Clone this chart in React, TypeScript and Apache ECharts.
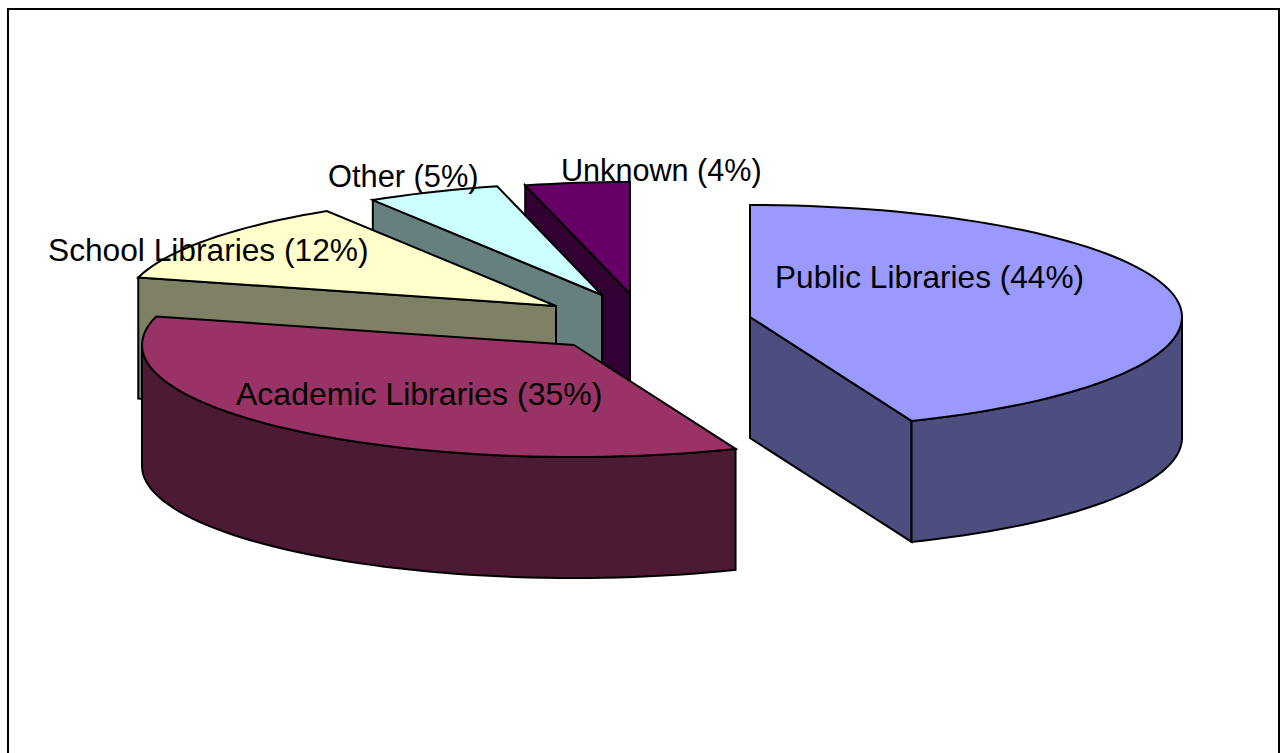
import React, { useEffect, useRef } from "react";
import * as echarts from "echarts";

const categories = ["Public Libraries", "Academic Libraries", "School Libraries", "Other", "Unknown"];
const shares = [43.9, 35.2, 12.0, 5.0, 3.9];
const topColors = ["#9999ff", "#993366", "#ffffcc", "#ccffff", "#660066"];
const wallColors = ["#4d4d80", "#4d1a33", "#808066", "#668080", "#330033"];
const apexes = [[750, 317], [574, 345], [556, 306], [602, 295], [630, 294]];
const labelSpots = [[775, 277], [236, 394], [48, 250], [328, 176], [561, 170]];
const labelSizes = [31.6, 32, 31.7, 30.8, 30.6];

const RX = 432;
const RY = 112;
const DEPTH = 121;
const total = shares.reduce((a, b) => a + b, 0);
const stroke = { stroke: "#000", lineWidth: 2, lineJoin: "miter" as const };

function rim(cx: number, cy: number, deg: number): number[] {
  const t = (deg * Math.PI) / 180;
  return [cx + RX * Math.sin(t), cy - RY * Math.cos(t)];
}
function down(p: number[]): number[] {
  return [p[0], p[1] + DEPTH];
}
function arc(cx: number, cy: number, a: number, b: number): number[][] {
  const pts: number[][] = [];
  const n = Math.max(1, Math.ceil((b - a) / 2));
  for (let i = 0; i <= n; i++) pts.push(rim(cx, cy, a + ((b - a) * i) / n));
  return pts;
}
function poly(points: number[][], fill: string) {
  return { type: "polygon", shape: { points }, style: { fill, ...stroke } };
}

function renderSlice(_: any, api: any) {
  const i = api.value(0);
  const start = (shares.slice(0, i).reduce((a, b) => a + b, 0) / total) * 360;
  const end = start + (api.value(1) / total) * 360;
  const [cx, cy] = apexes[i];
  const apex = [cx, cy];
  const wall = wallColors[i];
  const children: any[] = [];
  const radial = (deg: number) => {
    const p = rim(cx, cy, deg);
    children.push(poly([apex, p, down(p), down(apex)], wall));
  };
  if (Math.sin((start * Math.PI) / 180) < -1e-6) radial(start);
  if (Math.sin((end * Math.PI) / 180) > 1e-6) radial(end);
  const a = Math.max(start, 90);
  const b = Math.min(end, 270);
  if (b > a) {
    const top = arc(cx, cy, a, b);
    children.push(poly([...top, ...top.map(down).reverse()], wall));
  }
  children.push(poly([apex, ...arc(cx, cy, start, end)], topColors[i]));
  return { type: "group", children };
}

function renderLabel(_: any, api: any) {
  const i = api.value(0);
  const [x, y] = labelSpots[i];
  return {
    type: "text",
    x,
    y,
    style: {
      text: `${categories[i]} (${Math.round(api.value(1))}%)`,
      fill: "#000",
      font: `${labelSizes[i]}px "Liberation Sans", Arial, sans-serif`,
      textAlign: "left",
      textVerticalAlign: "middle",
    },
  };
}

const drawOrder = [4, 3, 2, 1, 0];

export default function App() {
  const ref = useRef<HTMLDivElement>(null);
  useEffect(() => {
    const chart = echarts.init(ref.current!, null, { renderer: "svg" });
    chart.setOption({
      animation: false,
      backgroundColor: "#fff",
      graphic: [
        {
          type: "rect",
          shape: { x: 8, y: 9, width: 1271, height: 760 },
          style: { fill: "none", stroke: "#000", lineWidth: 2 },
          silent: true,
        },
      ],
      series: [
        {
          type: "custom",
          coordinateSystem: "none",
          renderItem: renderSlice,
          data: drawOrder.map((i) => [i, shares[i]]),
          z: 2,
          silent: true,
        },
        {
          type: "custom",
          coordinateSystem: "none",
          renderItem: renderLabel,
          data: shares.map((v, i) => [i, v]),
          z: 3,
          silent: true,
        },
      ],
    });
    return () => chart.dispose();
  }, []);
  return <div ref={ref} style={{ position: "absolute", left: 0, top: 0, width: 1280, height: 753 }} />;
}
